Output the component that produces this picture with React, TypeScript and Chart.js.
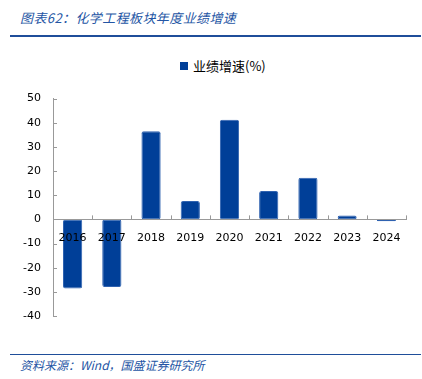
import React, { useEffect, useRef } from "react";
import { Chart, registerables } from "chart.js";

Chart.register(...registerables);

const categories = ["2016", "2017", "2018", "2019", "2020", "2021", "2022", "2023", "2024"];
const growth = [-28.6, -28.0, 36.5, 7.6, 41.2, 11.7, 17.2, 1.6, -0.8];
const seriesName = "业绩增速(%)";
const title = "图表62：化学工程板块年度业绩增速";
const source = "资料来源：Wind，国盛证券研究所";

const BLUE = "#003f98";
const FONT = "'DejaVu Sans', Verdana, sans-serif";

const tickMarks = {
  id: "tickMarks",
  afterDraw(chart: any) {
    const ctx = chart.ctx;
    const x = chart.scales.x;
    const y = chart.scales.y;
    const y0 = y.getPixelForValue(0);
    ctx.save();
    ctx.strokeStyle = "#999";
    ctx.lineWidth = 1;
    ctx.beginPath();
    for (let i = 0; i <= categories.length; i++) {
      const px = Math.round(x.left + (i * (x.right - x.left)) / categories.length) + 0.5;
      ctx.moveTo(px, y0);
      ctx.lineTo(px, y0 - 4);
    }
    for (let v = -40; v <= 50; v += 10) {
      const py = Math.round(y.getPixelForValue(v)) + 0.5;
      ctx.moveTo(x.left, py);
      ctx.lineTo(x.left + 4, py);
    }
    ctx.stroke();
    ctx.restore();
  },
};

export default function App() {
  const ref = useRef<HTMLCanvasElement>(null);
  useEffect(() => {
    if (!ref.current) return;
    const chart = new Chart(ref.current, {
      type: "bar",
      data: {
        labels: categories,
        datasets: [
          {
            label: seriesName,
            data: growth,
            backgroundColor: BLUE,
            borderColor: "#2f62b0",
            borderWidth: 1,
            borderRadius: 2,
            borderSkipped: false,
            categoryPercentage: 1,
            barPercentage: 0.49,
          },
        ],
      },
      options: {
        animation: false,
        responsive: false,
        maintainAspectRatio: false,
        layout: { padding: { top: 18, right: 16, bottom: 24, left: 0 } },
        plugins: { legend: { display: false }, tooltip: { enabled: false } },
        scales: {
          x: {
            position: { y: 0 },
            grid: { display: false, drawTicks: false },
            border: { display: true, color: "#999", z: 1 },
            ticks: { z: 1, color: "#000", font: { family: FONT, size: 11 }, padding: 12, maxRotation: 0 },
            afterFit: (s: any) => { s.height = 0; },
          },
          y: {
            min: -40,
            max: 50,
            grid: { display: false, drawTicks: false },
            border: { display: true, color: "#999" },
            ticks: { stepSize: 10, color: "#000", font: { family: FONT, size: 11 }, padding: 12 },
            afterFit: (s: any) => { s.width = 53; },
          },
        },
      },
      plugins: [tickMarks],
    });
    return () => chart.destroy();
  }, []);

  return (
    <div style={{ position: "fixed", left: 0, top: 0, width: 422, height: 379, background: "#fff" }}>
      <div
        style={{
          position: "absolute", left: 20, top: 8, fontSize: 13, fontStyle: "italic",
          color: "#2455a4", fontFamily: "'Noto Sans CJK SC', sans-serif", whiteSpace: "nowrap",
          letterSpacing: 0.4,
        }}
      >
        {title}
      </div>
      <div style={{ position: "absolute", left: 10, top: 35, width: 411, height: 2, background: "#1f4e9a" }} />
      <div
        style={{
          position: "absolute", left: 180, top: 56, display: "flex", alignItems: "center",
          fontSize: 13, fontFamily: "'Noto Sans CJK SC', sans-serif", color: "#000", whiteSpace: "nowrap",
        }}
      >
        <span style={{ display: "inline-block", width: 8, height: 8, background: BLUE, marginRight: 5 }} />
        {seriesName}
      </div>
      <canvas ref={ref} width={422} height={260} style={{ position: "absolute", left: 0, top: 80 }} />
      <div style={{ position: "absolute", left: 10, top: 354, width: 411, height: 1, background: "#1f4e9a" }} />
      <div
        style={{
          position: "absolute", left: 20, top: 356, fontSize: 12, fontStyle: "italic",
          color: "#2455a4", fontFamily: "'Noto Sans CJK SC', sans-serif", whiteSpace: "nowrap",
        }}
      >
        {source}
      </div>
    </div>
  );
}
